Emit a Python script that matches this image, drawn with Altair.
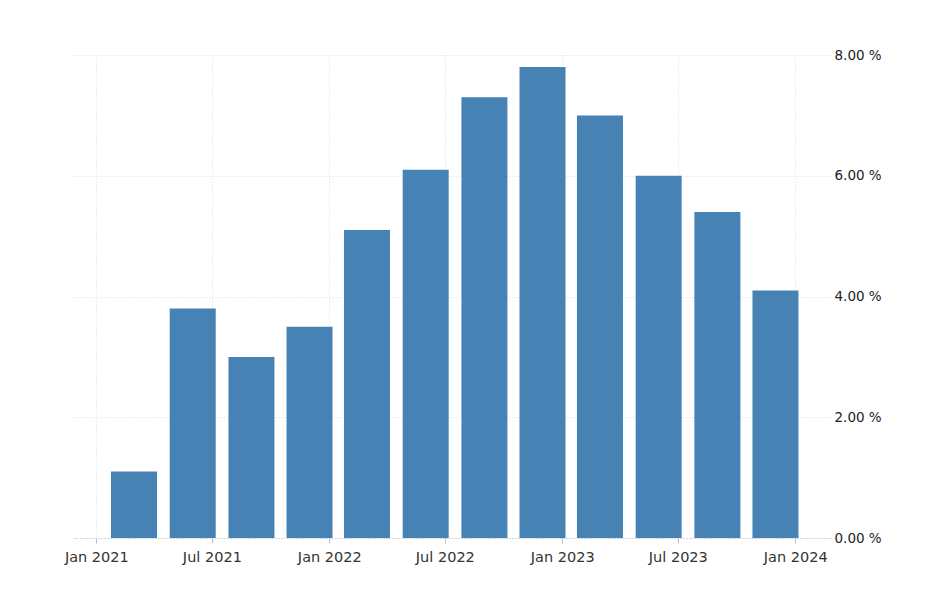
import altair as alt
import pandas as pd

quarters = ["2021-03-01", "2021-06-01", "2021-09-01", "2021-12-01",
            "2022-03-01", "2022-06-01", "2022-09-01", "2022-12-01",
            "2023-03-01", "2023-06-01", "2023-09-01", "2023-12-01"]
values = [1.1, 3.8, 3.0, 3.5, 5.1, 6.1, 7.3, 7.8, 7.0, 6.0, 5.4, 4.1]
tick_dates = [(2021, 1), (2021, 7), (2022, 1), (2022, 7), (2023, 1), (2023, 7), (2024, 1)]
y_ticks = [0, 2, 4, 6, 8]

df = pd.DataFrame({"date": [q + "T00:00:00" for q in quarters], "value": values})

FONT = "DejaVu Sans"

chart = alt.Chart(df).mark_bar(color="#4682b4", size=46).encode(
    x=alt.X("date:T",
            scale=alt.Scale(domain=[alt.DateTime(year=2020, month=11, date=27),
                                    alt.DateTime(year=2024, month=2, date=26)],
                            padding=0),
            axis=alt.Axis(
                title=None,
                values=[alt.DateTime(year=y, month=m, date=1) for y, m in tick_dates],
                labelExpr="timeFormat(datum.value, '%b %Y')",
                grid=True, gridColor="#dcdcdc", gridDash=[1, 2], gridWidth=1,
                domainColor="#bdbdbd", domainDash=[1, 2], domainWidth=1,
                tickColor="#bdbdbd", tickSize=5, tickWidth=1,
                labelFont=FONT, labelFontSize=14.5, labelColor="#333333",
                labelPadding=7, labelFlush=False)),
    y=alt.Y("value:Q",
            scale=alt.Scale(domain=[0, 8], nice=False),
            axis=alt.Axis(
                title=None, orient="right", values=y_ticks,
                labelExpr="format(datum.value, '.2f') + ' %'",
                grid=True, gridColor="#dcdcdc", gridDash=[1, 2], gridWidth=1,
                domain=False, ticks=False, labelPadding=3,
                labelFont=FONT, labelFontSize=13.5, labelColor="#222222")),
).properties(
    width=757, height=483, background="white",
    padding={"left": 56, "top": 40, "right": 5, "bottom": 5},
).configure_view(strokeWidth=0, stroke="transparent")

chart.save("out.html", embed_options={"renderer": "svg", "actions": False})
